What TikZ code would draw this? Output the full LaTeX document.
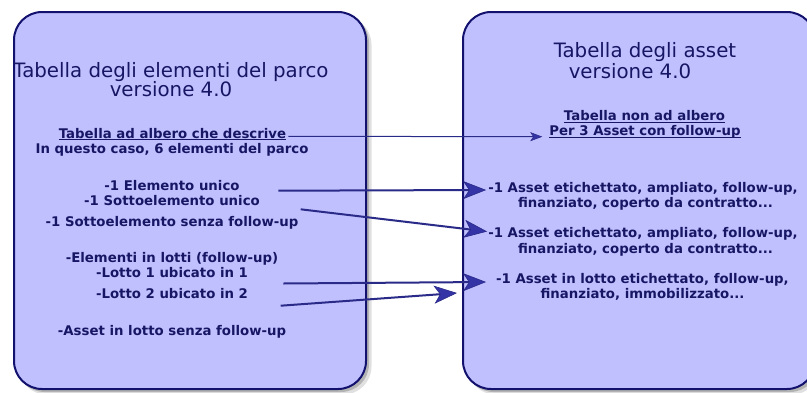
\documentclass[tikz,border=0pt]{standalone}
\usepackage{fontspec}
\setmainfont{DejaVu Sans}
\usetikzlibrary{arrows.meta}
\definecolor{boxfill}{HTML}{C0C0FF}
\definecolor{boxline}{HTML}{12126E}
\definecolor{txt}{HTML}{161664}
\definecolor{arr}{HTML}{2A2A88}
\definecolor{tipfill}{HTML}{3434A6}
\newcommand\myul[1]{\setbox0=\hbox{#1}\rlap{\rule[-2pt]{\wd0}{0.9pt}}\box0}
\begin{document}
\begin{tikzpicture}[x=1pt,y=-1pt,
  panel/.style={draw=boxline, line width=2pt, fill=boxfill, rounded corners=28pt},
  shadowbox/.style={fill=black, rounded corners=28pt},
  title/.style={anchor=base, inner sep=0pt, text=txt, font=\fontsize{19.8}{20}\selectfont},
  item/.style={anchor=base, inner sep=0pt, text=txt, font=\fontsize{13.3}{15}\selectfont\bfseries},
  thinarrow/.style={draw=arr, line width=1pt, -{Stealth[length=12pt,width=9pt,inset=3pt,line width=0.5pt,fill=tipfill]}},
  thickarrow/.style={draw=arr, line width=2pt, -{Stealth[length=23pt,width=18pt,inset=6pt,line width=0.6pt,fill=tipfill]}}]
\useasboundingbox (0,0) rectangle (807,392);
% shadows
\fill[shadowbox, opacity=.12] (18.5,16.5) rectangle (371.5,394.5);
\fill[shadowbox, opacity=.2] (16.5,14.5) rectangle (369,392);
\fill[shadowbox, opacity=.12] (467.5,16.5) rectangle (820,394.5);
\fill[shadowbox, opacity=.2] (465.5,14.5) rectangle (818,392);
% panels
\draw[panel] (14,12) rectangle (366,389);
\draw[panel] (463,12) rectangle (815,389);
% left texts
\node[title] (lt1) at (171,77.3) {Tabella degli elementi del parco};
\node[title] (lt2) at (171,96.7) {versione 4.0};
\node[item] (la1) at (172.5,138.3) {\myul{Tabella ad albero che descrive}};
\node[item] (la2) at (172,153.3) {In questo caso, 6 elementi del parco};
\node[item] (lc1) at (172,190.5) {-1 Elemento unico};
\node[item] (lc2) at (172,205.5) {-1 Sottoelemento unico};
\node[item] (lc3) at (172,226) {-1 Sottoelemento senza follow-up};
\node[item] (ld1) at (172,262.7) {-Elementi in lotti (follow-up)};
\node[item] (ld2) at (172,277.5) {-Lotto 1 ubicato in 1};
\node[item] (ld3) at (172,298.5) {-Lotto 2 ubicato in 2};
\node[item] (le1) at (172,335) {-Asset in lotto senza follow-up};
% right texts
\node[title] (rt1) at (645,57.3) {Tabella degli asset};
\node[title] (rt2) at (630,78.3) {versione 4.0};
\node[item] (ra1) at (644.5,120.7) {\myul{Tabella non ad albero}};
\node[item] (ra2) at (645,135.5) {\myul{Per 3 Asset con follow-up}};
\node[item] (rb1) at (643,192) {-1 Asset etichettato, ampliato, follow-up,};
\node[item] (rb2) at (645.5,207.5) {finanziato, coperto da contratto...};
\node[item] (rc1) at (643,237.5) {-1 Asset etichettato, ampliato, follow-up,};
\node[item] (rc2) at (645.5,253) {finanziato, coperto da contratto...};
\node[item] (rd1) at (642.5,283) {-1 Asset in lotto etichettato, follow-up,};
\node[item] (rd2) at (642.5,298.5) {finanziato, immobilizzato...};
% arrow free ends
\coordinate (s2) at (278.3,190.7);
\coordinate (s3) at (300.7,209.3);
\coordinate (s4) at (283.3,283.5);
\coordinate (s5) at (280.7,305.7);
\coordinate (t5) at (457,293);
% connectors
\draw[thinarrow] ([xshift=2pt,yshift=2pt]la1.base east) -- ([xshift=-7pt,yshift=-1.2pt]ra2.base west);
\draw[thickarrow] (s2) -- ([xshift=-2pt,yshift=2pt]rb1.base west);
\draw[thickarrow] (s3) -- ([xshift=-1pt,yshift=6pt]rc1.base west);
\draw[thickarrow] (s4) -- ([xshift=-10pt,yshift=1pt]rd1.base west);
\draw[thickarrow] (s5) -- (t5);
\end{tikzpicture}
\end{document}
